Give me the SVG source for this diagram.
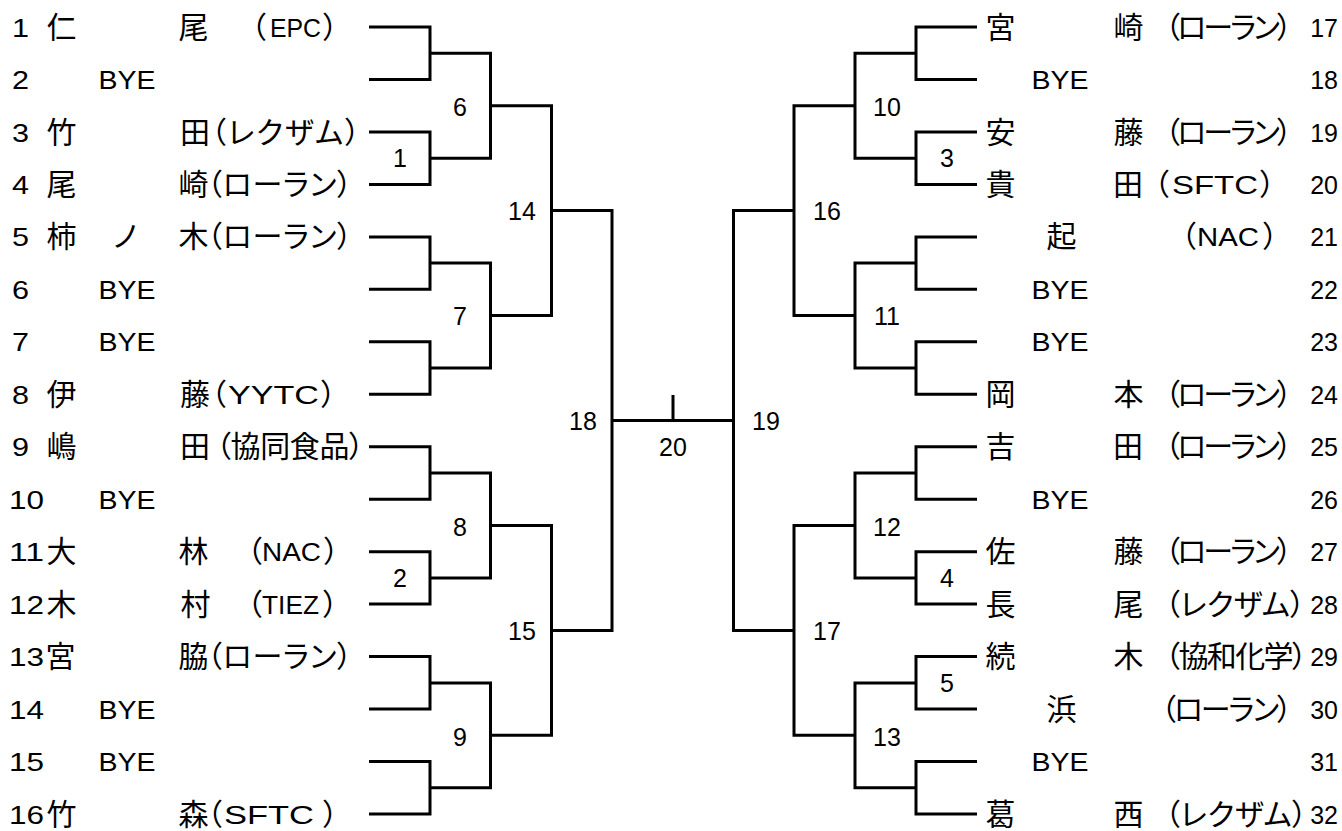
<svg xmlns="http://www.w3.org/2000/svg" width="1342" height="831" viewBox="0 0 1342 831">
<style>
.ln{fill:none;stroke:#000;stroke-width:3;stroke-linejoin:miter}
text{fill:#000}
.n{font-family:"Liberation Sans",Arial,sans-serif;font-size:25px}
.m{font-family:"Liberation Sans",Arial,sans-serif;font-size:25px;text-anchor:middle}
.e{font-family:"Liberation Sans",Arial,sans-serif;font-size:25px;text-anchor:end}
.j{font-family:"Noto Sans CJK JP",sans-serif;font-size:30px}
.a{font-family:"Noto Sans CJK JP",sans-serif;font-size:30px;font-feature-settings:"palt"}
.pe{font-family:"Noto Sans CJK JP",sans-serif;font-size:30px;font-feature-settings:"palt";text-anchor:end}
</style>
<rect width="1342" height="831" fill="#fff"/>
<g id="connectors" class="ln">
<path d="M369 27H430V79.5H369M369 132H430V184.4H369M369 236.9H430V289.3H369M369 341.8H430V394.3H369M369 446.7H430V499.2H369M369 551.7H430V604.1H369M369 656.6H430V709.1H369M369 761.5H430V814H369"/>
<path d="M430 53.2H490.5V158.2H430M430 263.1H490.5V368H430M430 473H490.5V577.9H430M430 682.9H490.5V787.8H430"/>
<path d="M490.5 105.7H551.5V315.6H490.5M490.5 525.4H551.5V735.3H490.5"/>
<path d="M551.5 210.6H612V630.4H551.5"/>
<path d="M612 420.5H733.5M673 395V420.5"/>
<path d="M794 210.6H733.5V630.4H794"/>
<path d="M855 105.7H794V315.6H855M855 525.4H794V735.3H855"/>
<path d="M916 53.2H855V158.2H916M916 263.1H855V368H916M916 473H855V577.9H916M916 682.9H855V787.8H916"/>
<path d="M977 27H916V79.5H977M977 132H916V184.4H977M977 236.9H916V289.3H977M977 341.8H916V394.3H977M977 446.7H916V499.2H977M977 551.7H916V604.1H977M977 656.6H916V709.1H977M977 761.5H916V814H977"/>
</g>
<g id="match-labels" class="m">
<text x="400" y="167">1</text>
<text x="460" y="116">6</text>
<text x="522" y="220">14</text>
<text x="460" y="325">7</text>
<text x="583" y="430">18</text>
<text x="460" y="536">8</text>
<text x="400" y="587">2</text>
<text x="522" y="640">15</text>
<text x="460" y="746">9</text>
<text x="673" y="456">20</text>
<text x="766" y="430">19</text>
<text x="827" y="220">16</text>
<text x="887" y="116">10</text>
<text x="947" y="167">3</text>
<text x="887" y="325">11</text>
<text x="887" y="536">12</text>
<text x="947" y="587">4</text>
<text x="827" y="640">17</text>
<text x="947" y="692">5</text>
<text x="887" y="746">13</text>
</g>
<g id="p1" transform="translate(0,27)"><text class="n" x="12" y="9.5" textLength="17" lengthAdjust="spacingAndGlyphs">1</text><text class="j" x="46.5" y="10.5">仁</text><text class="j" x="178.5" y="10.5">尾</text><text class="a" x="251" y="10.5">（</text><text class="n" x="270" y="9.5" textLength="51" lengthAdjust="spacingAndGlyphs">EPC</text><text class="pe" x="338" y="10.5">）</text></g>
<g id="p2" transform="translate(0,79.5)"><text class="n" x="12" y="9.5" textLength="17" lengthAdjust="spacingAndGlyphs">2</text><text class="n" x="98.5" y="9.5" textLength="57" lengthAdjust="spacingAndGlyphs">BYE</text></g>
<g id="p3" transform="translate(0,132)"><text class="n" x="12" y="9.5" textLength="17" lengthAdjust="spacingAndGlyphs">3</text><text class="j" x="46.5" y="10.5">竹</text><text class="j" x="180" y="10.5">田</text><text class="a" x="211" y="10.5" textLength="149" lengthAdjust="spacing">（レクザム）</text></g>
<g id="p4" transform="translate(0,184.4)"><text class="n" x="12" y="9.5" textLength="17" lengthAdjust="spacingAndGlyphs">4</text><text class="j" x="46.5" y="10.5">尾</text><text class="j" x="178.5" y="10.5">崎</text><text class="a" x="207" y="10.5" textLength="145" lengthAdjust="spacing">（ローラン）</text></g>
<g id="p5" transform="translate(0,236.9)"><text class="n" x="12" y="9.5" textLength="17" lengthAdjust="spacingAndGlyphs">5</text><text class="j" x="46.5" y="10.5">柿</text><text class="j" x="111" y="10.5">ノ</text><text class="j" x="178.5" y="10.5">木</text><text class="a" x="207" y="10.5" textLength="145" lengthAdjust="spacing">（ローラン）</text></g>
<g id="p6" transform="translate(0,289.3)"><text class="n" x="12" y="9.5" textLength="17" lengthAdjust="spacingAndGlyphs">6</text><text class="n" x="98.5" y="9.5" textLength="57" lengthAdjust="spacingAndGlyphs">BYE</text></g>
<g id="p7" transform="translate(0,341.8)"><text class="n" x="12" y="9.5" textLength="17" lengthAdjust="spacingAndGlyphs">7</text><text class="n" x="98.5" y="9.5" textLength="57" lengthAdjust="spacingAndGlyphs">BYE</text></g>
<g id="p8" transform="translate(0,394.3)"><text class="n" x="12" y="9.5" textLength="17" lengthAdjust="spacingAndGlyphs">8</text><text class="j" x="180" y="10.5" dx="-133.5">伊</text><text class="j" x="180" y="10.5">藤</text><text class="a" x="211" y="10.5">（</text><text class="n" x="228" y="9.5" textLength="91" lengthAdjust="spacingAndGlyphs">YYTC</text><text class="pe" x="336" y="10.5">）</text></g>
<g id="p9" transform="translate(0,446.7)"><text class="n" x="12" y="9.5" textLength="17" lengthAdjust="spacingAndGlyphs">9</text><text class="j" x="46.5" y="10.5">嶋</text><text class="j" x="180" y="10.5">田</text><text class="a" x="216" y="10.5" textLength="148" lengthAdjust="spacing">（協同食品）</text></g>
<g id="p10" transform="translate(0,499.2)"><text class="n" x="9" y="9.5" textLength="35" lengthAdjust="spacingAndGlyphs">10</text><text class="n" x="98.5" y="9.5" textLength="57" lengthAdjust="spacingAndGlyphs">BYE</text></g>
<g id="p11" transform="translate(0,551.7)"><text class="n" x="9" y="9.5" textLength="35" lengthAdjust="spacingAndGlyphs">11</text><text class="j" x="46.5" y="10.5">大</text><text class="j" x="178.5" y="10.5">林</text><text class="a" x="247" y="10.5">（</text><text class="n" x="262" y="9.5" textLength="59" lengthAdjust="spacingAndGlyphs">NAC</text><text class="pe" x="339" y="10.5">）</text></g>
<g id="p12" transform="translate(0,604.1)"><text class="n" x="9" y="9.5" textLength="35" lengthAdjust="spacingAndGlyphs">12</text><text class="j" x="46.5" y="10.5">木</text><text class="j" x="180.5" y="10.5">村</text><text class="a" x="247" y="10.5">（</text><text class="n" x="262" y="9.5" textLength="57" lengthAdjust="spacingAndGlyphs">TIEZ</text><text class="pe" x="338" y="10.5">）</text></g>
<g id="p13" transform="translate(0,656.6)"><text class="n" x="9" y="9.5" textLength="35" lengthAdjust="spacingAndGlyphs">13</text><text class="j" x="45.5" y="10.5">宮</text><text class="j" x="178.5" y="10.5">脇</text><text class="a" x="207" y="10.5" textLength="145" lengthAdjust="spacing">（ローラン）</text></g>
<g id="p14" transform="translate(0,709.1)"><text class="n" x="9" y="9.5" textLength="35" lengthAdjust="spacingAndGlyphs">14</text><text class="n" x="98.5" y="9.5" textLength="57" lengthAdjust="spacingAndGlyphs">BYE</text></g>
<g id="p15" transform="translate(0,761.5)"><text class="n" x="9" y="9.5" textLength="35" lengthAdjust="spacingAndGlyphs">15</text><text class="n" x="98.5" y="9.5" textLength="57" lengthAdjust="spacingAndGlyphs">BYE</text></g>
<g id="p16" transform="translate(0,814)"><text class="n" x="9" y="9.5" textLength="35" lengthAdjust="spacingAndGlyphs">16</text><text class="j" x="46.5" y="10.5">竹</text><text class="j" x="178.5" y="10.5">森</text><text class="a" x="207" y="10.5">（</text><text class="n" x="224" y="9.5" textLength="90" lengthAdjust="spacingAndGlyphs">SFTC</text><text class="pe" x="338" y="10.5">）</text></g>
<g id="p17" transform="translate(0,27)"><text class="j" x="985.5" y="10.5">宮</text><text class="j" x="1113.5" y="10.5">崎</text><text class="a" x="1165" y="10.5" textLength="127" lengthAdjust="spacing">（ローラン）</text><text class="e" x="1338" y="9.5">17</text></g>
<g id="p18" transform="translate(0,79.5)"><text class="n" x="1031.5" y="9.5" textLength="57" lengthAdjust="spacingAndGlyphs">BYE</text><text class="e" x="1338" y="9.5">18</text></g>
<g id="p19" transform="translate(0,132)"><text class="j" x="985.5" y="10.5">安</text><text class="j" x="1113.5" y="10.5">藤</text><text class="a" x="1165" y="10.5" textLength="127" lengthAdjust="spacing">（ローラン）</text><text class="e" x="1338" y="9.5">19</text></g>
<g id="p20" transform="translate(0,184.4)"><text class="j" x="985.5" y="10.5">貴</text><text class="j" x="1113" y="10.5">田</text><text class="a" x="1154" y="10.5">（</text><text class="n" x="1172" y="9.5" textLength="86" lengthAdjust="spacingAndGlyphs">SFTC</text><text class="pe" x="1275" y="10.5">）</text><text class="e" x="1338" y="9.5">20</text></g>
<g id="p21" transform="translate(0,236.9)"><text class="j" x="1046.5" y="10.5">起</text><text class="a" x="1181" y="10.5">（</text><text class="n" x="1197" y="9.5" textLength="62" lengthAdjust="spacingAndGlyphs">NAC</text><text class="pe" x="1278" y="10.5">）</text><text class="e" x="1338" y="9.5">21</text></g>
<g id="p22" transform="translate(0,289.3)"><text class="n" x="1031.5" y="9.5" textLength="57" lengthAdjust="spacingAndGlyphs">BYE</text><text class="e" x="1338" y="9.5">22</text></g>
<g id="p23" transform="translate(0,341.8)"><text class="n" x="1031.5" y="9.5" textLength="57" lengthAdjust="spacingAndGlyphs">BYE</text><text class="e" x="1338" y="9.5">23</text></g>
<g id="p24" transform="translate(0,394.3)"><text class="j" x="985.5" y="10.5">岡</text><text class="j" x="1113.5" y="10.5">本</text><text class="a" x="1165" y="10.5" textLength="127" lengthAdjust="spacing">（ローラン）</text><text class="e" x="1338" y="9.5">24</text></g>
<g id="p25" transform="translate(0,446.7)"><text class="j" x="985.5" y="10.5">吉</text><text class="j" x="1113" y="10.5">田</text><text class="a" x="1165" y="10.5" textLength="127" lengthAdjust="spacing">（ローラン）</text><text class="e" x="1338" y="9.5">25</text></g>
<g id="p26" transform="translate(0,499.2)"><text class="n" x="1031.5" y="9.5" textLength="57" lengthAdjust="spacingAndGlyphs">BYE</text><text class="e" x="1338" y="9.5">26</text></g>
<g id="p27" transform="translate(0,551.7)"><text class="j" x="985.5" y="10.5">佐</text><text class="j" x="1113.5" y="10.5">藤</text><text class="a" x="1165" y="10.5" textLength="127" lengthAdjust="spacing">（ローラン）</text><text class="e" x="1338" y="9.5">27</text></g>
<g id="p28" transform="translate(0,604.1)"><text class="j" x="985.5" y="10.5">長</text><text class="j" x="1113.5" y="10.5">尾</text><text class="a" x="1165" y="10.5" textLength="140" lengthAdjust="spacing">（レクザム）</text><text class="e" x="1338" y="9.5">28</text></g>
<g id="p29" transform="translate(0,656.6)"><text class="j" x="985.5" y="10.5">続</text><text class="j" x="1113.5" y="10.5">木</text><text class="a" x="1165" y="10.5" textLength="142" lengthAdjust="spacing">（協和化学）</text><text class="e" x="1338" y="9.5">29</text></g>
<g id="p30" transform="translate(0,709.1)"><text class="j" x="1046.5" y="10.5">浜</text><text class="a" x="1161" y="10.5" textLength="131" lengthAdjust="spacing">（ローラン）</text><text class="e" x="1338" y="9.5">30</text></g>
<g id="p31" transform="translate(0,761.5)"><text class="n" x="1031.5" y="9.5" textLength="57" lengthAdjust="spacingAndGlyphs">BYE</text><text class="e" x="1338" y="9.5">31</text></g>
<g id="p32" transform="translate(0,814)"><text class="j" x="985.5" y="10.5">葛</text><text class="j" x="1113.5" y="10.5">西</text><text class="a" x="1165" y="10.5" textLength="142" lengthAdjust="spacing">（レクザム）</text><text class="e" x="1338" y="9.5">32</text></g>
</svg>
